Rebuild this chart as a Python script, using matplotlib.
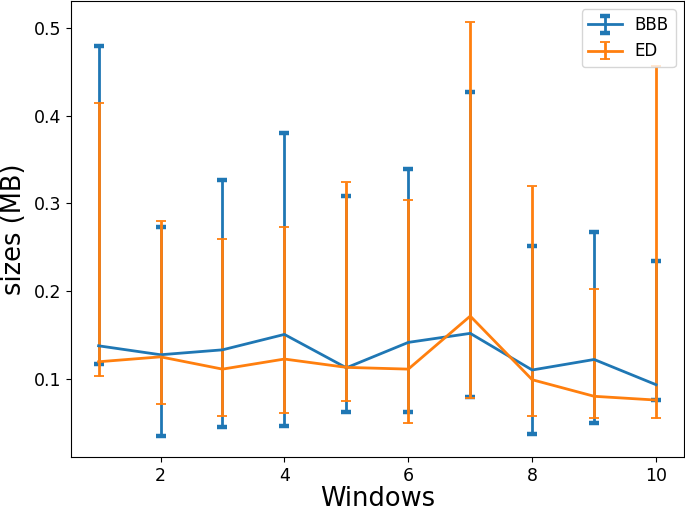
import numpy as np
import matplotlib
matplotlib.use("Agg")
import matplotlib.pyplot as plt

windows = np.arange(1, 11)

# BBB: mean, lower and upper bound
bbb_mean = [0.1376, 0.1274, 0.133, 0.1506, 0.1125, 0.1415, 0.1518, 0.110, 0.122, 0.0932]
bbb_low = [0.1168, 0.0343, 0.0453, 0.046, 0.062, 0.0624, 0.0795, 0.0366, 0.050, 0.0757]
bbb_high = [0.480, 0.2726, 0.3266, 0.380, 0.309, 0.339, 0.427, 0.252, 0.268, 0.2346]

# ED: mean, lower and upper bound
ed_mean = [0.1194, 0.125, 0.111, 0.1225, 0.113, 0.111, 0.1715, 0.0989, 0.080, 0.0757]
ed_low = [0.103, 0.0708, 0.0578, 0.0605, 0.0746, 0.0495, 0.0777, 0.0578, 0.0552, 0.0555]
ed_high = [0.4147, 0.280, 0.259, 0.2733, 0.3247, 0.3034, 0.5075, 0.320, 0.2023, 0.4566]


def yerr(mean, low, high):
    mean = np.array(mean)
    return [mean - np.array(low), np.array(high) - mean]


fig = plt.figure(figsize=(6.85, 5.13), dpi=100)
ax = fig.add_axes([0.1032, 0.1086, 0.8953, 0.8894])

ax.errorbar(windows, bbb_mean, yerr=yerr(bbb_mean, bbb_low, bbb_high),
            color="#1f77b4", lw=2, elinewidth=2, capsize=3.6, capthick=3.2,
            label="BBB")
ax.errorbar(windows, ed_mean, yerr=yerr(ed_mean, ed_low, ed_high),
            color="#ff7f0e", lw=2, elinewidth=2, capsize=3.3, capthick=1.3,
            label="ED")

ax.set_ylim(0.0104, 0.531)
ax.set_xlabel("Windows", fontsize=18.5, labelpad=0.5)
ax.set_ylabel("sizes (MB)", fontsize=18.5, labelpad=5)
ax.tick_params(labelsize=12.5)
ax.legend(fontsize=12, loc="upper right")

fig.savefig("out.png", dpi=100)
